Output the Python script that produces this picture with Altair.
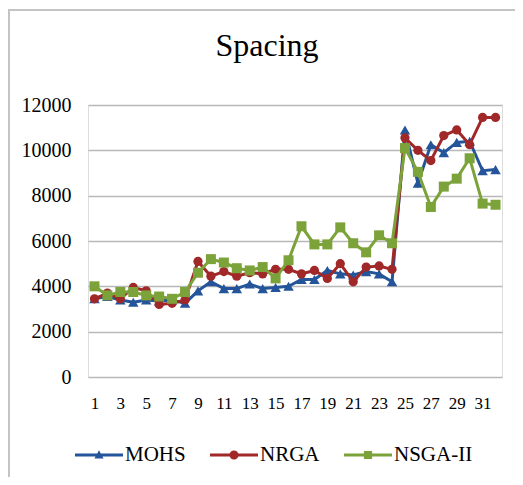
import altair as alt
import pandas as pd

runs = list(range(1, 33))
series_names = ["MOHS", "NRGA", "NSGA-II"]
mohs = [3450, 3550, 3400, 3300, 3400, 3350, 3400, 3250, 3800, 4200, 3900, 3900, 4100, 3900, 3950, 4000,
        4300, 4300, 4700, 4550, 4500, 4650, 4550, 4200, 10900, 8550, 10250, 9900, 10350, 10400, 9100, 9150]
nrga = [3450, 3700, 3450, 3950, 3800, 3200, 3250, 3400, 5100, 4450, 4650, 4450, 4600, 4550, 4750, 4750,
        4550, 4700, 4350, 5000, 4200, 4850, 4900, 4750, 10550, 10000, 9550, 10650, 10900, 10250, 11450, 11450]
nsga = [4000, 3600, 3750, 3750, 3600, 3550, 3450, 3750, 4600, 5200, 5050, 4800, 4700, 4850, 4350, 5150,
        6650, 5850, 5850, 6600, 5900, 5500, 6250, 5900, 10100, 9050, 7500, 8400, 8750, 9650, 7650, 7600]
y_ticks = [0, 2000, 4000, 6000, 8000, 10000, 12000]
x_ticks = list(range(1, 32, 2))

colors = ["#24549A", "#A02828", "#7CA23A"]
shapes = ["triangle-up", "circle", "square"]
sizes = [110, 85, 100]

rows = []
for name, vals in zip(series_names, [mohs, nrga, nsga]):
    for r, v in zip(runs, vals):
        rows.append({"run": r, "value": v, "series": name})
df = pd.DataFrame(rows)

FONT = "Liberation Serif"
W, H = 414, 272

x_enc = alt.X("run:Q", scale=alt.Scale(domain=[0.5, 32.5], nice=False, zero=False),
              axis=alt.Axis(values=x_ticks, format="d", title=None, grid=False, domain=False, ticks=False,
                            labelFont=FONT, labelFontSize=17, labelColor="#000000", labelPadding=18,
                            labelFlush=False, labelOverlap=False))
y_enc = alt.Y("value:Q", scale=alt.Scale(domain=[0, 12000], nice=False),
              axis=alt.Axis(values=y_ticks, format="d", title=None, domain=False, ticks=False, grid=True,
                            gridColor="#B8B8B8", gridWidth=1.6, labelFont=FONT, labelFontSize=20,
                            labelColor="#000000", labelPadding=17))

base = alt.Chart(df)

frame = alt.Chart(alt.Data(values=[{}])).mark_rect(
    fill="transparent", stroke="#C4C4C4", strokeWidth=2
).encode(x=alt.value(-79), x2=alt.value(W + 40), y=alt.value(-95), y2=alt.value(H + 120))

layers = [frame]
for name, c, s, sz in zip(series_names, colors, shapes, sizes):
    sub = base.transform_filter(alt.datum.series == name)
    layers.append(sub.mark_line(strokeWidth=3, color=c).encode(x=x_enc, y=y_enc))
    layers.append(sub.mark_point(filled=True, opacity=1, shape=s, size=sz, color=c).encode(x=x_enc, y=y_enc))

line_part = "M-1,-0.065L1,-0.065L1,0.065L-1,0.065Z"
legend_paths = [
    line_part + "M0,-0.2L0.19,0.15L-0.19,0.15Z",
    line_part + "M0.19,0A0.19,0.19 0 1,1 -0.19,0A0.19,0.19 0 1,1 0.19,0Z",
    line_part + "M-0.17,-0.17L0.17,-0.17L0.17,0.17L-0.17,0.17Z",
]

legend = alt.Legend(title=None, orient="none", direction="horizontal", legendX=-13, legendY=326,
                    labelFont=FONT, labelFontSize=21, labelColor="#000000", symbolSize=2304,
                    symbolStrokeWidth=0, labelOffset=2, columnPadding=24, symbolOpacity=1)
legend_layer = base.transform_filter("datum.value < 0").mark_point(filled=True, opacity=1).encode(
    x=x_enc, y=y_enc,
    color=alt.Color("series:N", scale=alt.Scale(domain=series_names, range=colors), legend=legend),
    shape=alt.Shape("series:N", scale=alt.Scale(domain=series_names, range=legend_paths), legend=legend),
)
layers.append(legend_layer)

chart = alt.layer(*layers).properties(
    width=W, height=H,
    title=alt.TitleParams("Spacing", font=FONT, fontSize=32, fontWeight="normal", color="#000000",
                          anchor="middle", frame="group", dx=-28, offset=-79, baseline="alphabetic"),
    autosize=alt.AutoSizeParams(type="none"),
    padding={"left": 80, "top": 97, "right": 13, "bottom": 100},
).configure_view(stroke=None).configure(background="#FFFFFF")

chart.save("out.html", embed_options={"renderer": "svg", "actions": False})
